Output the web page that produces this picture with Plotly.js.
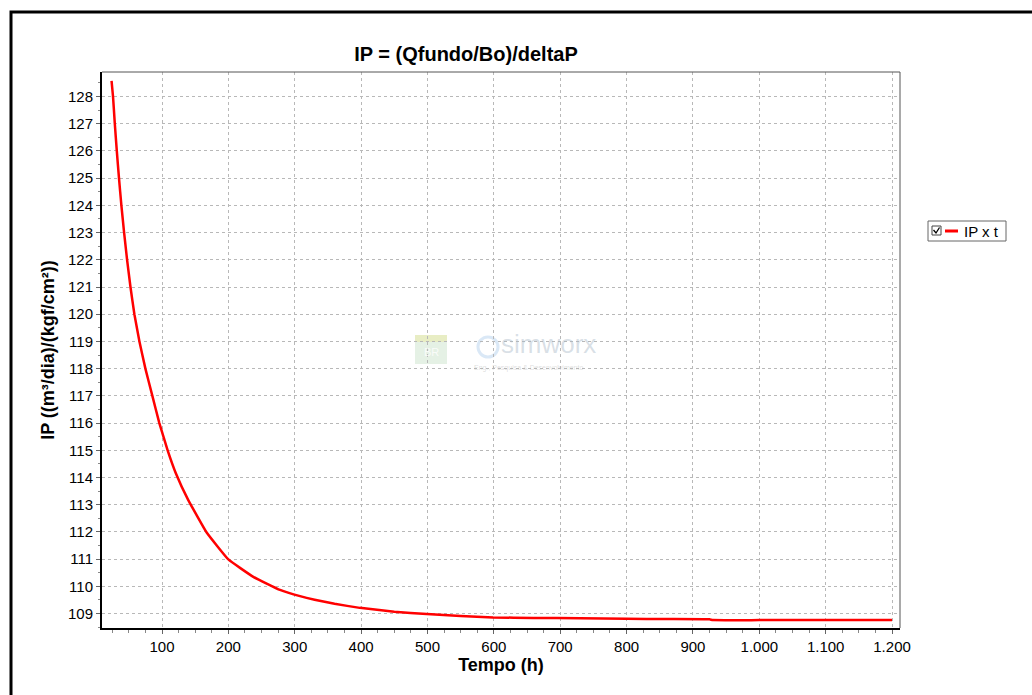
<!DOCTYPE html>
<html><head><meta charset="utf-8">
<script src="https://cdn.plot.ly/plotly-3.0.1.min.js"></script>
<style>html,body{margin:0;padding:0;background:#fff;}#chart{width:1032px;height:695px;}</style>
</head><body><div id="chart"></div>
<script>
// Data
const tempo = [24, 26.2, 28.9, 31.9, 35.2, 38.8, 42.9, 47.4, 52.5, 58.4, 66, 75, 85.5, 96, 108.5, 121, 139.6, 167.3, 200, 237.6, 277.8, 308, 330, 360, 398, 450, 499, 550, 599, 660, 730, 800, 860, 925, 930, 1000, 1100, 1200];
const ip = [128.57, 128.0, 127.0, 126.0, 125.0, 124.0, 123.0, 122.0, 121.0, 120.0, 119.0, 118.0, 117.0, 116.0, 115.0, 114.15, 113.17, 111.98, 110.99, 110.35, 109.87, 109.64, 109.51, 109.36, 109.21, 109.07, 108.98, 108.91, 108.86, 108.84, 108.83, 108.81, 108.80, 108.79, 108.76, 108.76, 108.76, 108.76];
const seriesName = "IP x t";
const chartTitle = "IP = (Qfundo/Bo)/deltaP";
const xTitle = "Tempo (h)";
const yTitle = "IP ((m³/dia)/(kgf/cm²))";

const W = 1032, H = 695;
const L = 102, R = 900, T = 72, B = 628;
const px = x => (x - L) / (R - L);
const py = y => 1 - (y - T) / (B - T);
const font = "Liberation Sans, Arial, sans-serif";

const trace = {
  x: tempo, y: ip, type: "scatter", mode: "lines", name: seriesName,
  line: {color: "#ff0000", width: 2.5, shape: "spline", smoothing: 0.3}, showlegend: false
};

const checkPath = "M " + px(933.5) + "," + py(230) + " L " + px(936) + "," + py(233) + " L " + px(939.5) + "," + py(227.5);

const layout = {
  width: W, height: H,
  margin: {l: L, r: W - R, t: T, b: H - B, pad: 0},
  paper_bgcolor: "#ffffff", plot_bgcolor: "#ffffff",
  separators: ",.",
  font: {family: font, size: 15, color: "#000"},
  title: {text: "<b>" + chartTitle + "</b>", font: {family: font, size: 20, color: "#000"},
          x: px(466), xref: "paper", xanchor: "center", y: 1 - 54 / H, yanchor: "middle"},
  xaxis: {
    range: [9.6, 1212], tick0: 0, dtick: 100, separatethousands: true,
    showgrid: true, gridcolor: "#b8b8b8", griddash: "dot", gridwidth: 1,
    zeroline: false, showline: true, linecolor: "#000", linewidth: 2,
    ticks: "outside", ticklen: 4, tickcolor: "#666", tickfont: {family: font, size: 15, color: "#000"},
    minor: {dtick: 25, tick0: 0, ticks: "outside", ticklen: 3, tickcolor: "#888", showgrid: false},
    title: {text: "<b>" + xTitle + "</b>", font: {family: font, size: 18, color: "#000"}, standoff: 2},
    automargin: false
  },
  yaxis: {
    range: [108.47, 128.9], tick0: 0, dtick: 1,
    showgrid: true, gridcolor: "#b8b8b8", griddash: "dot", gridwidth: 1,
    zeroline: false, showline: true, linecolor: "#000", linewidth: 2,
    ticks: "outside", ticklen: 4, tickcolor: "#666", tickfont: {family: font, size: 15, color: "#000"},
    minor: {dtick: 0.5, ticks: "outside", ticklen: 2, tickcolor: "#888", showgrid: false},
    title: {text: "<b>" + yTitle + "</b>", font: {family: font, size: 18, color: "#000"}, standoff: 9},
    automargin: false
  },
  showlegend: false,
  shapes: [
    // outer frame (top and left visible)
    {type: "rect", xref: "paper", yref: "paper", x0: px(11), y0: py(720), x1: px(1060), y1: py(12),
     line: {color: "#000", width: 3}, fillcolor: "rgba(0,0,0,0)", layer: "below"},
    // top and right plot borders
    {type: "line", xref: "paper", yref: "paper", x0: 0, x1: 1, y0: 1, y1: 1, line: {color: "#555", width: 1}},
    {type: "line", xref: "paper", yref: "paper", x0: 1, x1: 1, y0: 0, y1: 1, line: {color: "#555", width: 1}},
    // watermark BR logo
    {type: "rect", xref: "paper", yref: "paper", x0: px(415), x1: px(447), y0: py(364), y1: py(335),
     fillcolor: "rgba(150,200,150,0.25)", line: {width: 0}, layer: "below"},
    {type: "rect", xref: "paper", yref: "paper", x0: px(415), x1: px(447), y0: py(342), y1: py(335),
     fillcolor: "rgba(240,230,120,0.3)", line: {width: 0}, layer: "below"},
    // watermark circle
    {type: "circle", xref: "paper", yref: "paper", x0: px(478), x1: px(498), y0: py(357), y1: py(337),
     line: {color: "rgba(150,190,230,0.35)", width: 3}, layer: "below"},
    // legend box
    {type: "rect", xref: "paper", yref: "paper", x0: px(928), x1: px(1006), y0: py(241), y1: py(221),
     line: {color: "#666", width: 1}, fillcolor: "#fff"},
    // legend checkbox
    {type: "rect", xref: "paper", yref: "paper", x0: px(932), x1: px(941), y0: py(235), y1: py(226),
     line: {color: "#444", width: 1}, fillcolor: "#fff"},
    {type: "path", xref: "paper", yref: "paper", path: checkPath, line: {color: "#000", width: 1.3}},
    // legend line sample
    {type: "line", xref: "paper", yref: "paper", x0: px(945), x1: px(958), y0: py(231), y1: py(231),
     line: {color: "#ff0000", width: 3}}
  ],
  annotations: [
    {text: "simworx", xref: "paper", yref: "paper", x: px(548), y: py(344), showarrow: false,
     font: {family: font, size: 26, color: "rgba(170,185,200,0.45)"}},
    {text: "Eng., Pesquisa & Desenvolvimento", xref: "paper", yref: "paper", x: px(528), y: py(368), showarrow: false,
     font: {family: font, size: 7, color: "rgba(170,170,170,0.4)"}},
    {text: "BR", xref: "paper", yref: "paper", x: px(431), y: py(352), showarrow: false,
     font: {family: font, size: 11, color: "rgba(255,255,255,0.8)"}},
    {text: seriesName, xref: "paper", yref: "paper", x: px(962), y: py(231), xanchor: "left", yanchor: "middle",
     showarrow: false, font: {family: font, size: 15, color: "#000"}}
  ]
};

Plotly.newPlot("chart", [trace], layout, {displayModeBar: false, staticPlot: true});
</script></body></html>
